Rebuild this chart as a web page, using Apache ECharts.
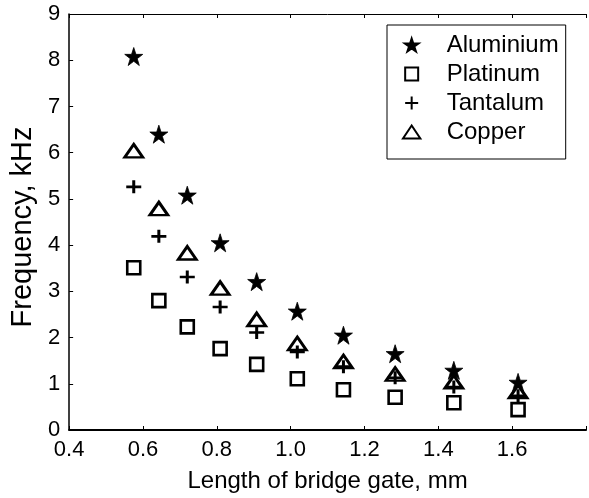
<!DOCTYPE html>
<html>
<head>
<meta charset="utf-8">
<script src="https://cdn.jsdelivr.net/npm/echarts@6/dist/echarts.min.js"></script>
<style>
html,body{margin:0;padding:0;background:#fff;}
#chart{width:589px;height:498px;}
</style>
</head>
<body>
<div id="chart"></div>
<script>
const seriesNames = ['Aluminium', 'Platinum', 'Tantalum', 'Copper'];
const gateLength = [0.575, 0.643, 0.72, 0.809, 0.908, 1.018, 1.143, 1.283, 1.442, 1.616];
const aluminium = [8.08, 6.40, 5.08, 4.05, 3.21, 2.57, 2.05, 1.65, 1.29, 1.03];
const platinum  = [3.51, 2.80, 2.23, 1.76, 1.42, 1.11, 0.87, 0.71, 0.59, 0.44];
const tantalum  = [5.26, 4.19, 3.31, 2.66, 2.11, 1.69, 1.37, 1.13, 0.93, 0.74];
const copper    = [6.04, 4.79, 3.83, 3.07, 2.39, 1.87, 1.48, 1.21, 1.04, 0.83];
const xTicks = [0.4, 0.6, 0.8, 1.0, 1.2, 1.4, 1.6];
const yTicks = [0, 1, 2, 3, 4, 5, 6, 7, 8, 9];

const FONT = 'Arial, "Liberation Sans", sans-serif';

const STAR = 'path://M50,0 L61.8,35.1 L98.9,35.1 L68.9,57.0 L80.3,92.3 L50,70.5 L19.7,92.3 L31.1,57.0 L1.1,35.1 L38.2,35.1 Z';
const SQUARE = 'path://M0,0 H10 V10 H0 Z';
const TRI = 'path://M6,0 L12,9 L0,9 Z';
const PLUS = 'path://M5,0 V10 M0,5 H10';

function pts(ys) { return gateLength.map((x, i) => [x, ys[i]]); }

const chart = echarts.init(document.getElementById('chart'), null, {renderer: 'canvas'});
const option = {
  animation: false,
  backgroundColor: '#fff',
  textStyle: {fontFamily: FONT},
  grid: {left: 64, top: 14, bottom: 67, right: -11, containLabel: false},
  legend: {
    orient: 'vertical',
    left: 387, top: 25,
    data: seriesNames,
    backgroundColor: '#fff',
    borderColor: '#000', borderWidth: 1,
    padding: [8, 7, 15, 15],
    itemWidth: 60, itemHeight: 13, itemGap: 5,
    selectedMode: false,
    textStyle: {fontFamily: FONT, fontSize: 24, color: '#000', lineHeight: 24}
  },
  xAxis: [{
    type: 'value', min: 0.4, max: 1.8, interval: 0.2,
    name: 'Length of bridge gate, mm', nameLocation: 'middle', nameGap: 39,
    nameTextStyle: {fontFamily: FONT, fontSize: 24, color: '#000'},
    axisLine: {lineStyle: {color: '#000', width: 2}},
    axisTick: {inside: true, length: 4, lineStyle: {color: '#000'}},
    axisLabel: {fontFamily: FONT, fontSize: 22, color: '#000', margin: 9,
      formatter: v => (xTicks.some(t => Math.abs(t - v) < 1e-6) ? v.toFixed(1) : '')},
    splitLine: {show: false}
  }, {
    type: 'value', position: 'top', min: 0.4, max: 1.8, interval: 0.2,
    axisLine: {show: true, lineStyle: {color: '#000', width: 1}},
    axisTick: {inside: true, length: 4, lineStyle: {color: '#000'}},
    axisLabel: {show: false}, splitLine: {show: false}
  }],
  yAxis: [{
    type: 'value', min: 0, max: 9, interval: 1,
    name: 'Frequency, kHz', nameLocation: 'middle', nameGap: 29,
    nameTextStyle: {fontFamily: FONT, fontSize: 29, color: '#000', padding: [0, 10, 0, 0]},
    axisLine: {show: true, lineStyle: {color: '#000', width: 1.5}},
    axisTick: {inside: true, length: 4, lineStyle: {color: '#000'}},
    axisLabel: {fontFamily: FONT, fontSize: 22, color: '#000', margin: 9,
      formatter: v => (yTicks.indexOf(v) >= 0 ? String(v) : '')},
    splitLine: {show: false}
  }],
  series: [
    {name: 'Aluminium', type: 'scatter', data: pts(aluminium), symbol: STAR, symbolSize: 18,
     itemStyle: {color: '#000', borderColor: '#000', borderWidth: 0.8, opacity: 1}},
    {name: 'Platinum', type: 'scatter', data: pts(platinum), symbol: SQUARE, symbolSize: 13,
     itemStyle: {color: 'rgba(255,255,255,0)', borderColor: '#000', borderWidth: 2.6, opacity: 1}},
    {name: 'Tantalum', type: 'scatter', data: pts(tantalum), symbol: PLUS, symbolSize: [15, 13],
     itemStyle: {color: 'rgba(255,255,255,0)', borderColor: '#000', borderWidth: 2.8, opacity: 1}},
    {name: 'Copper', type: 'scatter', data: pts(copper), symbol: TRI, symbolSize: [18, 13],
     itemStyle: {color: 'rgba(255,255,255,0)', borderColor: '#000', borderWidth: 2.8, opacity: 1}}
  ]
};
chart.setOption(option);
</script>
</body>
</html>
